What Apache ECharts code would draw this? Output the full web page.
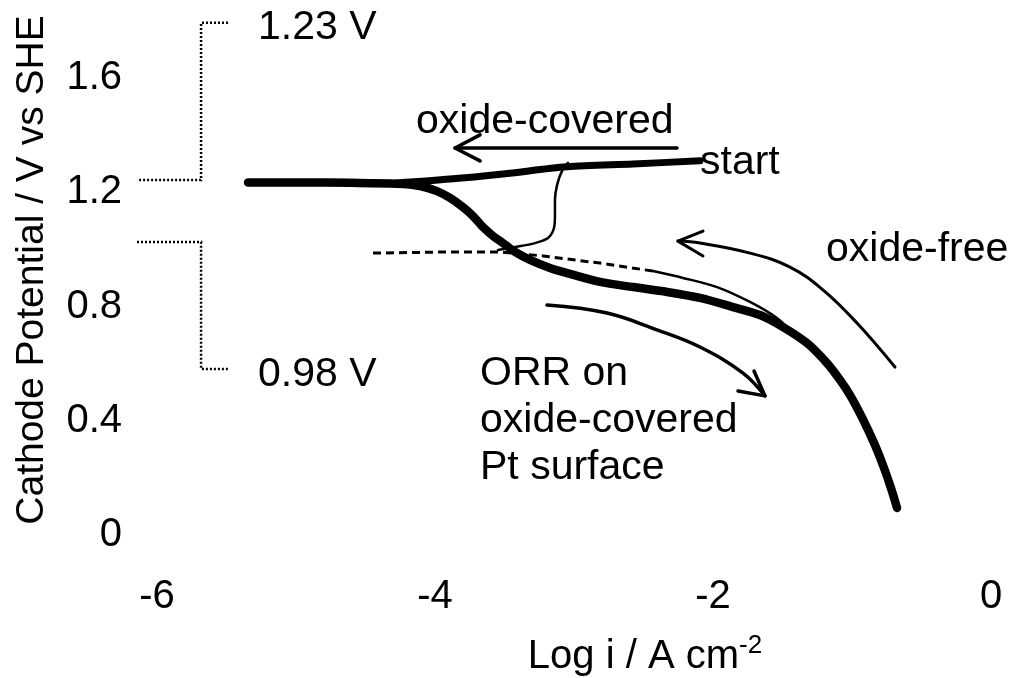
<!DOCTYPE html>
<html>
<head>
<meta charset="utf-8">
<script src="https://cdn.jsdelivr.net/npm/echarts@6/dist/echarts.min.js"></script>
<style>
  html, body { margin: 0; padding: 0; background: #fff; }
  #chart { width: 1018px; height: 678px; }
</style>
</head>
<body>
<div id="chart"></div>
<script>
// Axis ticks
const xTicks = [-6, -4, -2, 0];
const yTicks = [0, 0.4, 0.8, 1.2, 1.6];

// Polarization curve measured from the start potential downward (log i, E)
const mainCurve = [
  [-5.345, 1.234], [-4.971, 1.234], [-4.612, 1.233], [-4.273, 1.230], [-4.108, 1.222],
  [-3.986, 1.204], [-3.892, 1.180], [-3.799, 1.148], [-3.727, 1.117], [-3.655, 1.078],
  [-3.583, 1.047], [-3.511, 1.022], [-3.424, 0.991], [-3.317, 0.963], [-3.173, 0.935],
  [-3.050, 0.917], [-2.813, 0.886], [-2.576, 0.868], [-2.331, 0.851], [-2.094, 0.830],
  [-1.856, 0.798], [-1.662, 0.770], [-1.496, 0.728], [-1.324, 0.672], [-1.180, 0.602],
  [-1.086, 0.543], [-1.014, 0.490], [-0.921, 0.405], [-0.835, 0.315], [-0.770, 0.235],
  [-0.720, 0.165], [-0.676, 0.095]
];

// Branch running from the start point back onto the 1.23 V plateau
const startBranch = [
  [-4.273, 1.232], [-3.892, 1.246], [-3.511, 1.264], [-3.050, 1.289], [-2.576, 1.299], [-2.094, 1.310]
];

// Thin connector from the oxide-covered branch down to the 0.98 V level
const oxideDrop = [
  [-3.043, 1.303], [-3.086, 1.275], [-3.122, 1.225], [-3.137, 1.173], [-3.137, 1.120],
  [-3.144, 1.075], [-3.187, 1.040], [-3.281, 1.022], [-3.424, 1.008], [-3.547, 0.998]
];

// Oxide-free curve: extrapolated (dashed) part and measured (solid) part
const oxideFreeDashed = [
  [-4.446, 0.987], [-3.892, 0.991], [-3.532, 0.991], [-3.223, 0.977], [-2.813, 0.952], [-2.432, 0.924]
];
const oxideFreeSolid = [
  [-2.432, 0.924], [-2.216, 0.900], [-1.971, 0.868], [-1.734, 0.816], [-1.540, 0.760],
  [-1.446, 0.718], [-1.338, 0.676]
];

// Annotation arrows (shaft + open head)
const arrowCoveredShaft = [[-2.259, 1.355], [-3.856, 1.355]];
const arrowCoveredHead = [[-3.676, 1.401], [-3.856, 1.355], [-3.676, 1.310]];
const arrowFreeShaft = [
  [-0.691, 0.588], [-0.964, 0.742], [-1.209, 0.858], [-1.446, 0.938], [-1.734, 0.987],
  [-2.094, 1.022], [-2.252, 1.029]
];
const arrowFreeHead = [[-2.072, 1.064], [-2.252, 1.029], [-2.072, 0.977]];
const arrowOrrShaft = [
  [-3.194, 0.805], [-2.763, 0.777], [-2.403, 0.718], [-2.094, 0.658], [-1.784, 0.567], [-1.626, 0.487]
];
const arrowOrrHead = [[-1.705, 0.574], [-1.626, 0.487], [-1.820, 0.504]];

// Dotted brackets marking the 1.23 V and 0.98 V levels (reach left of the plot)
const bracketUpper = [[-5.489, 1.793], [-5.683, 1.793], [-5.683, 1.243], [-6.144, 1.243]];
const bracketLower = [[-6.144, 1.026], [-5.683, 1.026], [-5.683, 0.581], [-5.489, 0.581]];

const FONT = '"Liberation Sans", Arial, Helvetica, sans-serif';

function lineSeries(data, width, opts) {
  return Object.assign({
    type: 'line',
    data: data,
    symbol: 'none',
    clip: false,
    silent: true,
    lineStyle: { color: '#000', width: width, cap: 'round', join: 'round' }
  }, opts || {});
}

const chart = echarts.init(document.getElementById('chart'), null, { renderer: 'canvas' });

chart.setOption({
  animation: false,
  backgroundColor: '#fff',
  grid: { left: 157, right: 27, top: 78, bottom: 143, containLabel: false },
  xAxis: {
    type: 'value',
    min: xTicks[0],
    max: xTicks[xTicks.length - 1],
    interval: 2,
    axisLine: { show: false },
    axisTick: { show: false },
    splitLine: { show: false },
    axisLabel: { color: '#000', fontSize: 40, fontFamily: FONT, margin: 42 }
  },
  yAxis: {
    type: 'value',
    min: yTicks[0],
    max: yTicks[yTicks.length - 1],
    interval: 0.4,
    axisLine: { show: false },
    axisTick: { show: false },
    splitLine: { show: false },
    axisLabel: { color: '#000', fontSize: 40, fontFamily: FONT, margin: 35 }
  },
  series: [
    lineSeries(oxideFreeDashed, 3, { lineStyle: { color: '#000', width: 3, type: [8, 5] } }),
    lineSeries(oxideFreeSolid, 2.5, { smooth: 0.3 }),
    lineSeries(oxideDrop, 2.5, { smooth: 0.3 }),
    lineSeries(startBranch, 7, { smooth: 0.3 }),
    lineSeries(mainCurve, 8.5, { smooth: 0.3 }),
    lineSeries(arrowCoveredShaft, 3.5),
    lineSeries(arrowCoveredHead, 3.5),
    lineSeries(arrowFreeShaft, 3, { smooth: 0.4 }),
    lineSeries(arrowFreeHead, 3),
    lineSeries(arrowOrrShaft, 3.5, { smooth: 0.4 }),
    lineSeries(arrowOrrHead, 3.5)
  ],
  graphic: [
    // axis titles
    { type: 'text', x: 32, y: 270, rotation: Math.PI / 2,
      style: { text: 'Cathode Potential / V vs SHE', font: '39px ' + FONT, fill: '#000', align: 'center', verticalAlign: 'middle' } },
    { type: 'text', x: 645, y: 655,
      style: {
        text: '{a|Log i / A cm}{s|-2}', align: 'center', verticalAlign: 'middle',
        rich: {
          a: { fill: '#000', fontSize: 40, fontFamily: FONT, lineHeight: 44, verticalAlign: 'bottom' },
          s: { fill: '#000', fontSize: 26, fontFamily: FONT, lineHeight: 44, verticalAlign: 'top' }
        }
      } },
    // annotations
    { type: 'text', x: 258, y: 28, style: { text: '1.23 V', font: '41px ' + FONT, fill: '#000', verticalAlign: 'middle' } },
    { type: 'text', x: 258, y: 375, style: { text: '0.98 V', font: '41px ' + FONT, fill: '#000', verticalAlign: 'middle' } },
    { type: 'text', x: 416, y: 122, style: { text: 'oxide-covered', font: '41px ' + FONT, fill: '#000', verticalAlign: 'middle' } },
    { type: 'text', x: 700, y: 163, style: { text: 'start', font: '41px ' + FONT, fill: '#000', verticalAlign: 'middle' } },
    { type: 'text', x: 826, y: 250, style: { text: 'oxide-free', font: '41px ' + FONT, fill: '#000', verticalAlign: 'middle' } },
    { type: 'text', x: 480, y: 350, style: { text: 'ORR on\noxide-covered\nPt surface', font: '41px ' + FONT, fill: '#000', lineHeight: 47, verticalAlign: 'top' } }
  ]
});

// Brackets sit partly outside the axis extent, so place them through the grid's own mapping
function toPixels(points) {
  return points.map(p => chart.convertToPixel({ gridIndex: 0 }, p));
}
const bracketStyle = { stroke: '#000', lineWidth: 2.5, lineDash: [2, 2], fill: null };
chart.setOption({
  graphic: [
    { id: 'bracketUpper', type: 'polyline', silent: true, shape: { points: toPixels(bracketUpper) }, style: bracketStyle },
    { id: 'bracketLower', type: 'polyline', silent: true, shape: { points: toPixels(bracketLower) }, style: bracketStyle }
  ]
});
</script>
</body>
</html>
